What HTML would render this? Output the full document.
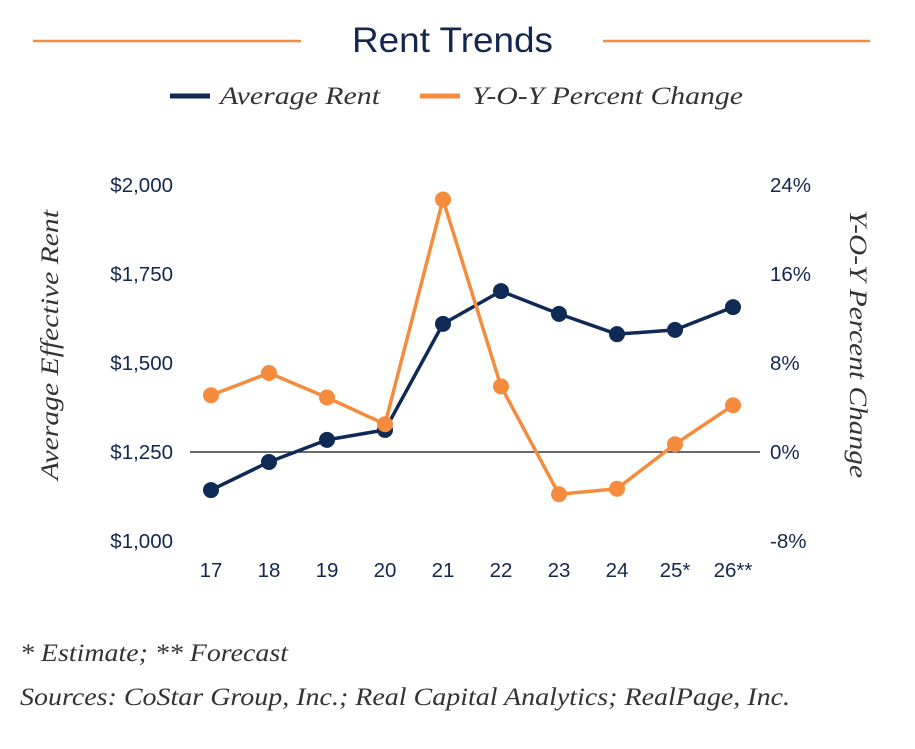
<!DOCTYPE html>
<html><head><meta charset="utf-8">
<style>
html,body{margin:0;padding:0;background:#fff;}
body{width:915px;height:749px;overflow:hidden;position:relative;}
svg{position:absolute;left:0;top:0;}
</style></head>
<body>
<svg id="chart" width="915" height="749" viewBox="0 0 915 749" xmlns="http://www.w3.org/2000/svg">
  <line x1="33" y1="41" x2="301" y2="41" stroke="#f58b3c" stroke-width="2.5"/>
  <line x1="603" y1="41" x2="870" y2="41" stroke="#f58b3c" stroke-width="2.5"/>
  <text x="352" y="52" textLength="201" lengthAdjust="spacingAndGlyphs" font-family="Liberation Sans, sans-serif" font-size="35" fill="#14284f">Rent Trends</text>
  <g>
    <line x1="170" y1="96" x2="210" y2="96" stroke="#0f2a55" stroke-width="5"/>
    <text x="220" y="104" textLength="160" lengthAdjust="spacingAndGlyphs" font-family="Liberation Serif, serif" font-style="italic" font-size="25" fill="#333">Average Rent</text>
    <line x1="420" y1="96" x2="460" y2="96" stroke="#f58b3c" stroke-width="5"/>
    <text x="472" y="104" textLength="271" lengthAdjust="spacingAndGlyphs" font-family="Liberation Serif, serif" font-style="italic" font-size="25" fill="#333">Y-O-Y Percent Change</text>
  </g>
  <text transform="translate(58,480) rotate(-90)" textLength="270" lengthAdjust="spacingAndGlyphs" font-family="Liberation Serif, serif" font-style="italic" font-size="25" fill="#333">Average Effective Rent</text>
  <text transform="translate(850,210) rotate(90)" textLength="268" lengthAdjust="spacingAndGlyphs" font-family="Liberation Serif, serif" font-style="italic" font-size="25" fill="#333">Y-O-Y Percent Change</text>
  <g id="axes"></g>
  <g id="marks"></g>
  <text x="20" y="661" textLength="268" lengthAdjust="spacingAndGlyphs" font-family="Liberation Serif, serif" font-style="italic" font-size="25" fill="#333">* Estimate;  ** Forecast</text>
  <text x="20" y="705" textLength="770" lengthAdjust="spacingAndGlyphs" font-family="Liberation Serif, serif" font-style="italic" font-size="25" fill="#333">Sources: CoStar Group, Inc.; Real Capital Analytics; RealPage, Inc.</text>
</svg>
<script>
const categories = ["17","18","19","20","21","22","23","24","25*","26**"];
const avgRent = [1143,1222,1284,1312,1610,1702,1638,1581,1593,1657];
const yoyChange = [5.1,7.1,4.9,2.5,22.7,5.9,-3.8,-3.3,0.7,4.2];
const leftTicks = [1000,1250,1500,1750,2000];
const leftTickLabels = ["$1,000","$1,250","$1,500","$1,750","$2,000"];
const rightTicks = [-8,0,8,16,24];
const rightTickLabels = ["-8%","0%","8%","16%","24%"];

const NS="http://www.w3.org/2000/svg";
const x0=211, dx=58;
function xPos(i){return x0+i*dx;}
function yLeft(v){return 541-(v-1000)/1000*356;}
function yRight(v){return 452-v/8*89;}
const axes=document.getElementById('axes'), marks=document.getElementById('marks');
function mk(tag,attrs,parent){const e=document.createElementNS(NS,tag);for(const k in attrs)e.setAttribute(k,attrs[k]);parent.appendChild(e);return e;}
const font="Liberation Sans, sans-serif";

const zl=mk('line',{x1:190,y1:yRight(0),x2:760,y2:yRight(0),stroke:'#111','stroke-width':1.2},axes);



leftTicks.forEach((v,i)=>{
  const t=mk('text',{x:173,y:yLeft(v)+7,'text-anchor':'end','font-family':font,'font-size':20.5,fill:'#14284f'},axes);
  t.textContent=leftTickLabels[i];
  
  
});
rightTicks.forEach((v,i)=>{
  const t=mk('text',{x:770,y:yRight(v)+7,'text-anchor':'start','font-family':font,'font-size':20.5,fill:'#14284f'},axes);
  t.textContent=rightTickLabels[i];
  
  
});
categories.forEach((c,i)=>{
  const t=mk('text',{x:xPos(i),y:577,'text-anchor':'middle','font-family':font,'font-size':20.5,fill:'#14284f'},axes);
  t.textContent=c;
  
  
});

function series(vals,yf,color,name){
  const pts=vals.map((v,i)=>xPos(i)+','+yf(v)).join(' ');
  const pl=mk('polyline',{points:pts,fill:'none',stroke:color,'stroke-width':3.5,'stroke-linejoin':'round'},marks);
  
  
  vals.forEach((v,i)=>{
    const c=mk('circle',{cx:xPos(i),cy:yf(v),r:8,fill:color},marks);
    
    
  });
}
series(avgRent,yLeft,'#0f2a55','average-rent');
series(yoyChange,yRight,'#f58b3c','yoy-change');
</script>
</body></html>
